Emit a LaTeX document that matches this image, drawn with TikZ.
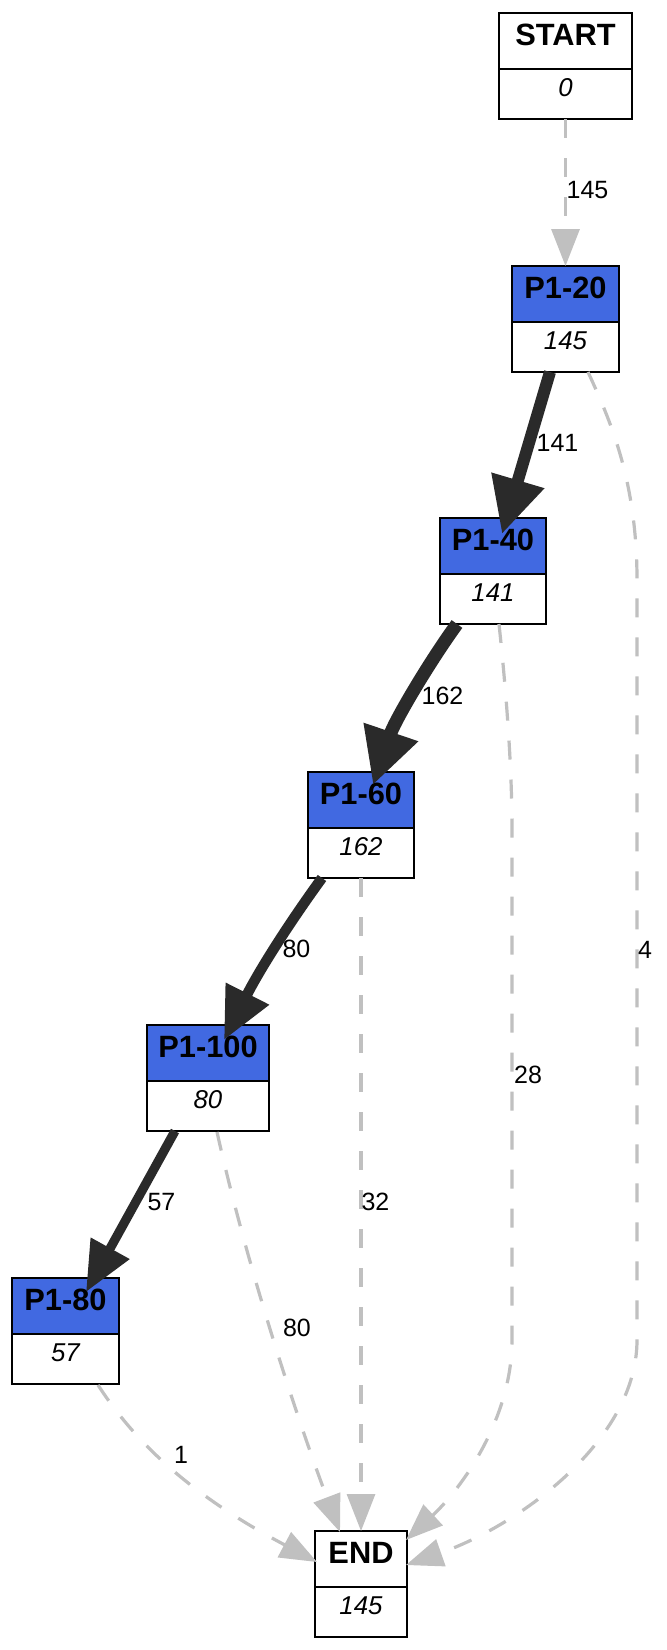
\documentclass[tikz,border=0pt]{standalone}
\usepackage{fontspec}
\setmainfont{Liberation Sans}
\usetikzlibrary{arrows.meta,calc}
\definecolor{royal}{HTML}{4169E1}
\definecolor{edgegray}{HTML}{C0C0C0}
\definecolor{heavy}{HTML}{2A2A2A}
\tikzset{
 gvbox/.style={draw=black, line width=1.45pt, minimum height=53pt, inner sep=0pt, outer sep=0pt},
 gvtitle/.style={font=\fontsize{15.4}{18}\selectfont\bfseries, inner sep=0pt},
 gvvalue/.style={font=\fontsize{12.9}{15}\selectfont\itshape, inner sep=0pt},
 elabel/.style={font=\fontsize{12.5}{15}\selectfont, inner sep=0pt},
 lightedge/.style={draw=edgegray, line width=1.6pt, dash pattern=on 9.5pt off 10pt, -{Triangle[width=14pt,length=18.5pt]}},
 heavyedge/.style={draw=heavy},
}
\newcommand\gvrec[7]{%
 \node[gvbox, minimum width=#4*0.5pt, path picture={
   \fill[#7] (path picture bounding box.north west) rectangle ([yshift=-28pt]path picture bounding box.north east);
   \draw[line width=1.45pt] ([yshift=-28pt]path picture bounding box.north west) -- ([yshift=-28pt]path picture bounding box.north east);}] (#1) at (#2,#3) {};
 \node[gvtitle] (#1-title) at ([yshift=15.75pt]#1.center) {#5};
 \node[gvvalue] (#1-value) at ([yshift=-11pt]#1.center) {#6};
}
\begin{document}
\begin{tikzpicture}[x=0.5pt,y=-0.5pt]
\path[fill=white,use as bounding box] (0,0) rectangle (667,1650);

% nodes
\gvrec{start}{565.5}{66}{133}{START}{0}{white}
\gvrec{p20}{565.5}{319}{107}{P1-20}{145}{royal}
\gvrec{p40}{493}{571}{106}{P1-40}{141}{royal}
\gvrec{p60}{361}{825}{106}{P1-60}{162}{royal}
\gvrec{p100}{208}{1078}{122}{P1-100}{80}{royal}
\gvrec{p80}{65.5}{1331}{107}{P1-80}{57}{royal}
\gvrec{end}{361}{1584}{92}{END}{145}{white}

% light dashed edges
\draw[lightedge] (start.south) -- (p20.north);
\draw[lightedge] ($(p80.south)+(32.5,1)$) .. controls (140,1450) and (200,1500) .. ($(end.west)+(2,-22)$);
\draw[lightedge] ($(p100.south)+(9,1)$) .. controls (250,1280) and (305,1440) .. ($(end.north)+(-21,1)$);
\draw[lightedge] (p60.south) -- (end.north);
\draw[lightedge] ($(p40.south)+(6,0)$) .. controls (505,680) and (512,760) .. (512,830) -- (512,1340) .. controls (512,1420) and (460,1490) .. ($(end.north east)+(-1,9)$);
\draw[lightedge] ($(p20.south)+(22.5,0)$) .. controls (610,420) and (637,480) .. (637,580) -- (637,1340) .. controls (637,1440) and (520,1525) .. ($(end.east)+(-1,-19)$);

% heavy edges
\draw[heavyedge, line width=6pt, -{Triangle[width=26pt,length=28pt]}] ($(p20.south)+(-15.5,0)$) -- ($(p40.north)+(9,16)$);
\draw[heavyedge, line width=6.6pt, -{Triangle[width=27pt,length=28pt]}] ($(p40.south)+(-36,0)$) .. controls (430,661) and (395,720) .. ($(p60.north)+(12,13)$);
\draw[heavyedge, line width=5.2pt, -{Triangle[width=23pt,length=26pt]}] ($(p60.south)+(-39,0)$) .. controls (295,915) and (262,965) .. ($(p100.north)+(16,15)$);
\draw[heavyedge, line width=4.6pt, -{Triangle[width=21pt,length=25pt]}] ($(p100.south)+(-33,0)$) -- ($(p80.north)+(20.5,14)$);

% edge labels
\node[elabel] (l145) at (587.5,190.5) {145};
\node[elabel] (l141) at (557.5,443) {141};
\node[elabel] (l162) at (442.5,696) {162};
\node[elabel] (l80a) at (296.5,949) {80};
\node[elabel] (l57) at (161.5,1202) {57};
\node[elabel] (l32) at (375.5,1202) {32};
\node[elabel] (l28) at (528,1075) {28};
\node[elabel] (l4) at (645,950) {4};
\node[elabel] (l80b) at (297,1328) {80};
\node[elabel] (l1) at (181,1455) {1};
\end{tikzpicture}
\end{document}
